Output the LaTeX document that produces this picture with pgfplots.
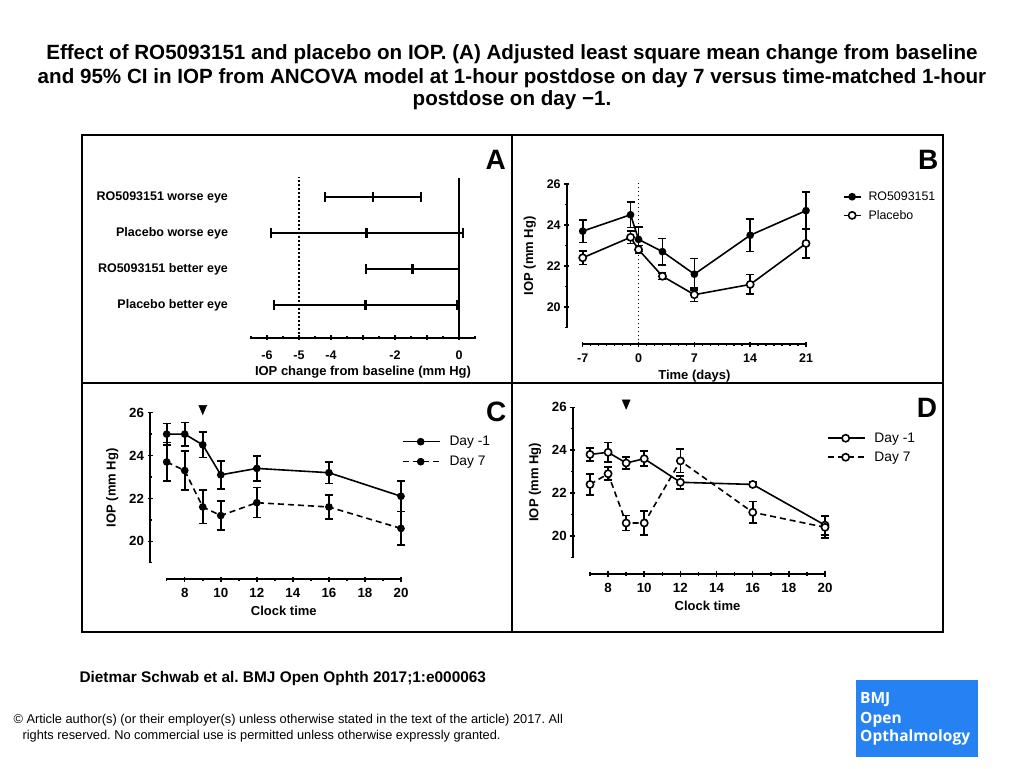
\documentclass[border=0pt]{standalone}
\usepackage{fontspec}
\setmainfont{Liberation Sans}
\newfontfamily\logofont{Open Sans}
\usepackage{pgfplots}
\pgfplotsset{compat=1.18}
\definecolor{bmjblue}{RGB}{38,130,243}
\newcommand\fs[2]{\fontsize{#1}{#2}\selectfont}
\frenchspacing

\pgfplotsset{
  every axis/.append style={scale only axis, clip=false, anchor=south west,
    axis line style={-, line width=1.8pt},
    tick style={black, line width=1.5pt},
    tick align=outside, major tick length=5pt, minor tick length=3pt,
    label style={font=\bfseries\fs{13}{15}},
    tick label style={font=\bfseries\fs{12.5}{14}},
    xticklabel style={text height=9.5pt, text depth=0pt}},
  yonly/.style={width=2pt, xmin=0, xmax=1, ymin=19, ymax=26,
    axis y line=left, axis x line=none, y axis line style={-},
    ytick={20,22,24,26}, yticklabels={20,22,24,26}, minor ytick={19,21,23,25},
    ylabel shift=4pt},
  xonly/.style={height=2pt, ymin=0, ymax=1, axis x line=bottom, axis y line=none,
    x axis line style={-}, xticklabel shift=3pt, xlabel shift=1.5pt},
  ebars/.style={error bars/y dir=both, error bars/y explicit,
    error bars/error bar style={line width=1.6pt, solid},
    error bars/error mark options={rotate=90, mark size=4pt, line width=1.6pt, solid}},
  solidpts/.style={black, line width=1.6pt, mark=*, mark size=3pt, mark options={solid}, ebars},
  openpts/.style={black, line width=1.6pt, mark=*, mark size=3.6pt,
    mark options={solid, fill=white, draw=black, line width=1.6pt}, ebars},
  legbase/.style={draw=none, fill=none, inner sep=0pt, anchor=north west},
  longleg/.style={legend image code/.code={
    \draw[mark repeat=2, mark phase=2, ##1] plot coordinates {(0pt,0pt) (18pt,0pt) (37pt,0pt)};}},
}

\begin{document}
\begin{tikzpicture}[x=1pt, y=1pt]
\fill[white] (0,0) rectangle (1024,768);
\useasboundingbox (0,0) rectangle (1024,768);

% title
\begin{scope}[every node/.style={anchor=base, font=\bfseries\fs{20.6}{24}}]
\node at (512,708.7) {Effect of RO5093151 and placebo on IOP. (A) Adjusted least square mean change from baseline};
\node at (512,684.7) {and 95\% CI in IOP from ANCOVA model at 1-hour postdose on day 7 versus time-matched 1-hour};
\node at (512,662) {postdose on day −1.};
\end{scope}

% panel frames
\draw[line width=2pt] (82,633) rectangle (943,136.5);
\draw[line width=2pt] (512.3,633) -- (512.3,136.5);
\draw[line width=2pt] (82,384.7) -- (943,384.7);

\begin{scope}[every node/.style={font=\bfseries\fs{28}{30}}]
\node at (495.8,608) {A};
\node at (928.3,608) {B};
\node at (496.3,356.3) {C};
\node at (927,359.7) {D};
\end{scope}

% ---------- A ----------
\begin{axis}[at={(251pt,430pt)}, width=224pt, height=160.1pt,
  xmin=-6.5, xmax=0.5, ymin=0.083, ymax=4.53,
  axis x line=bottom, axis y line=left, y axis line style={draw=none}, x axis line style={-},
  xtick={-6,-5,-4,-3,-2,-1,0}, xticklabels={-6,-5,-4,,-2,,0},
  minor xtick={-6.5,-5.5,-4.5,-3.5,-2.5,-1.5,-0.5,0.5},
  xticklabel shift=5.5pt,
  ytick={1,2,3,4}, ytick style={draw=none},
  yticklabels={Placebo better eye, RO5093151 better eye, Placebo worse eye, RO5093151 worse eye},
  yticklabel style={xshift=-17pt},
  xlabel={IOP change from baseline (mm Hg)}]
\addplot[black, line width=1.7pt] coordinates {(0,0.083) (0,4.53)};
\addplot[black, line width=1.5pt, dash pattern=on 1.5pt off 2.5pt] coordinates {(-5,0.083) (-5,4.556)};
\addplot[only marks, black, mark=|, mark size=5pt, mark options={line width=2.8pt},
  error bars/.cd, x dir=both, x explicit,
  error bar style={line width=1.8pt},
  error mark options={rotate=90, mark size=5pt, line width=1.8pt}]
  coordinates {
  (-2.69,4) +- (1.49,0)
  (-2.88,3) +- (3.00,0)
  (-1.45,2) +- (1.45,0)
  (-2.93,1) +- (2.86,0)
  };
\end{axis}

% ---------- B ----------
\begin{axis}[at={(566.7pt,440.5pt)}, height=143.5pt, yonly, ylabel={IOP (mm Hg)}]
\end{axis}
\begin{axis}[at={(582.7pt,423.7pt)}, width=223.3pt, xonly,
  xmin=-7, xmax=21, xtick={-7,0,7,14,21}, xticklabels={-7,0,7,14,21},
  minor xtick={-6,-5,-4,-3,-2,-1,1,2,3,4,5,6,8,9,10,11,12,13,15,16,17,18,19,20},
  xlabel={Time (days)}, xlabel shift=0pt]
\end{axis}
\begin{axis}[at={(582.7pt,440.5pt)}, width=223.3pt, height=143.5pt,
  hide axis, xmin=-7, xmax=21, ymin=19, ymax=26,
  legend style={legbase, at={(1.164,0.962)}, font=\fs{12.4}{14},
    row sep=4.3pt, column sep=5pt}, legend cell align=left]
\addplot[black, line width=1.4pt, dash pattern=on 1.5pt off 2.5pt, forget plot] coordinates {(0,18.18) (0,26.05)};
\addplot[solidpts] coordinates {
  (-7,23.7) +- (0,0.55)
  (-1,24.5) +- (0,0.62)
  (0,23.3) +- (0,0.6)
  (3,22.7) +- (0,0.65)
  (7,21.6) +- (0,0.77)
  (14,23.5) +- (0,0.8)
  (21,24.7) +- (0,0.9)
  };
\addplot[openpts] coordinates {
  (-7,22.4) +- (0,0.33)
  (-1,23.4) +- (0,0.3)
  (0,22.8) +- (0,0.2)
  (3,21.5) +- (0,0.15)
  (7,20.6) +- (0,0.33)
  (14,21.1) +- (0,0.48)
  (21,23.1) +- (0,0.7)
  };
\legend{RO5093151, Placebo}
\end{axis}

% ---------- C ----------
\begin{axis}[at={(150pt,205.3pt)}, height=150pt, yonly, ylabel={IOP (mm Hg)},
  tick label style={font=\bfseries\fs{13.3}{15}}]
\end{axis}
\begin{axis}[at={(166.7pt,188.7pt)}, width=234.3pt, xonly,
  xmin=7, xmax=20, xtick={8,10,12,14,16,18,20}, xticklabels={8,10,12,14,16,18,20},
  minor xtick={7,9,11,13,15,17,19}, xlabel={Clock time},
  tick label style={font=\bfseries\fs{13.3}{15}}]
\end{axis}
\begin{axis}[at={(166.7pt,205.3pt)}, width=234.3pt, height=150pt,
  hide axis, xmin=7, xmax=20, ymin=19, ymax=26, longleg,
  legend style={legbase, at={(1.003,0.858)}, font=\fs{13.8}{16},
    row sep=5pt, column sep=7pt}, legend cell align=left]
\addplot[only marks, mark=triangle*, mark size=4.6pt, mark options={rotate=180, yscale=1.35}, forget plot]
  coordinates {(9,26.2)};
\addplot[solidpts] coordinates {
  (7,25.0) +- (0,0.5)
  (8,25.0) +- (0,0.54)
  (9,24.5) +- (0,0.6)
  (10,23.1) +- (0,0.65)
  (12,23.4) +- (0,0.58)
  (16,23.2) +- (0,0.5)
  (20,22.1) +- (0,0.72)
  };
\addplot[solidpts, dash pattern=on 6pt off 4pt] coordinates {
  (7,23.7) +- (0,0.9)
  (8,23.3) +- (0,0.9)
  (9,21.6) +- (0,0.78)
  (10,21.2) +- (0,0.68)
  (12,21.8) +- (0,0.7)
  (16,21.6) +- (0,0.56)
  (20,20.6) +- (0,0.78)
  };
\legend{Day -1, Day 7}
\end{axis}

% ---------- D ----------
\begin{axis}[at={(572.7pt,210.7pt)}, height=150pt, yonly, ylabel={IOP (mm Hg)},
  tick label style={font=\bfseries\fs{13.3}{15}}]
\end{axis}
\begin{axis}[at={(590pt,194pt)}, width=235pt, xonly,
  xmin=7, xmax=20, xtick={8,10,12,14,16,18,20}, xticklabels={8,10,12,14,16,18,20},
  minor xtick={7,9,11,13,15,17,19}, xlabel={Clock time},
  tick label style={font=\bfseries\fs{13.3}{15}}]
\end{axis}
\begin{axis}[at={(590pt,210.7pt)}, width=235pt, height=150pt,
  hide axis, xmin=7, xmax=20, ymin=19, ymax=26, longleg,
  legend style={legbase, at={(1.007,0.845)}, font=\fs{13.8}{16},
    row sep=4pt, column sep=7pt}, legend cell align=left]
\addplot[only marks, mark=triangle*, mark size=4.6pt, mark options={rotate=180, yscale=1.35}, forget plot]
  coordinates {(9,26.2)};
\addplot[openpts] coordinates {
  (7,23.8) +- (0,0.3)
  (8,23.9) +- (0,0.45)
  (9,23.4) +- (0,0.28)
  (10,23.6) +- (0,0.35)
  (12,22.5) +- (0,0.3)
  (16,22.4) +- (0,0.1)
  (20,20.5) +- (0,0.45)
  };
\addplot[openpts, dash pattern=on 6pt off 4pt] coordinates {
  (7,22.4) +- (0,0.48)
  (8,22.9) +- (0,0.3)
  (9,20.6) +- (0,0.35)
  (10,20.6) +- (0,0.55)
  (12,23.5) +- (0,0.55)
  (16,21.1) +- (0,0.5)
  (20,20.4) +- (0,0.5)
  };
\legend{Day -1, Day 7}
\end{axis}

% footer
\node[anchor=base west, font=\bfseries\fs{15.4}{18}] at (76,85.3) {Dietmar Schwab et al. BMJ Open Ophth 2017;1:e000063};
\node[anchor=base west, font=\fs{12.8}{15}] at (10,44.5) {© Article author(s) (or their employer(s) unless otherwise stated in the text of the article) 2017. All};
\node[anchor=base west, font=\fs{12.8}{15}] at (19,28.5) {rights reserved. No commercial use is permitted unless otherwise expressly granted.};

% logo
\fill[bmjblue] (855.7,10.7) rectangle (977.7,88);
\begin{scope}[every node/.style={anchor=base west, inner sep=0pt, text=white, font=\logofont\bfseries\fs{15.5}{18}}]
\node at (860,64.7) {BMJ};
\node at (860,44.7) {Open};
\node at (860,26.3) {Opthalmology};
\end{scope}
\end{tikzpicture}
\end{document}
